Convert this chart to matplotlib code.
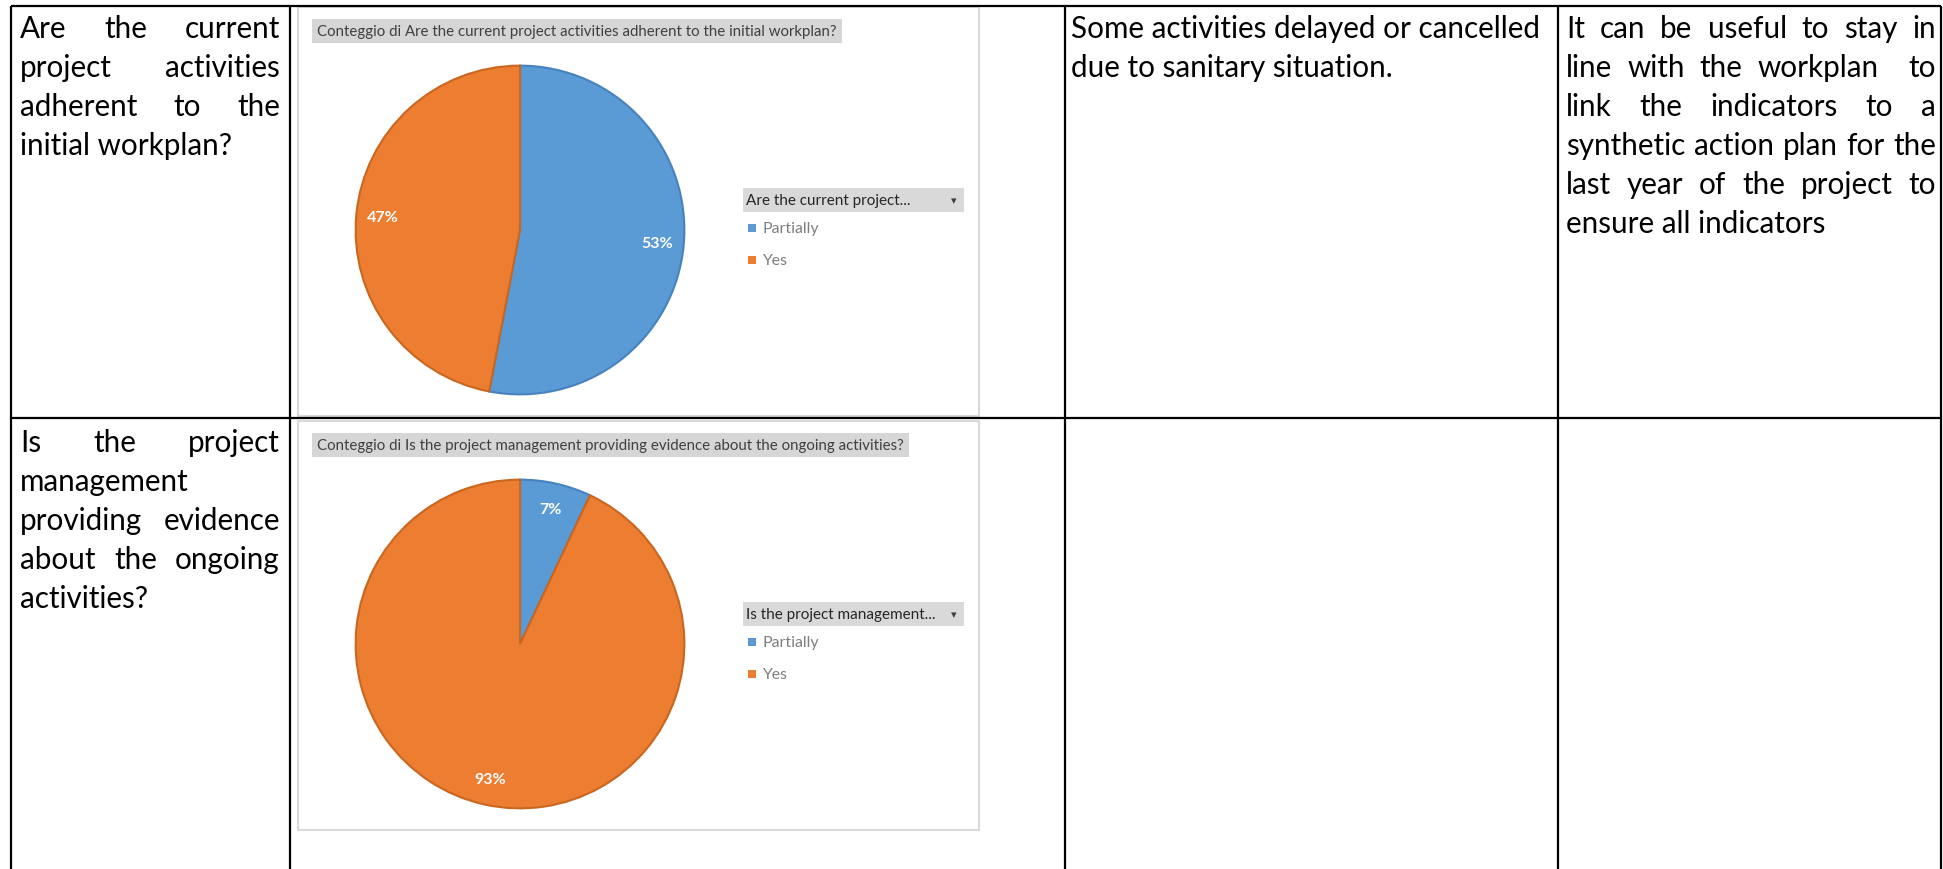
import matplotlib.pyplot as plt
from matplotlib.patches import Rectangle

plt.rcParams['font.family'] = ['Lato', 'DejaVu Sans']

W, H = 1943, 870

# testo della tabella, riga per riga come nel documento
q1_lines = ["Are the current", "project activities", "adherent to the", "initial workplan?"]
q2_lines = ["Is the project", "management", "providing evidence", "about the ongoing", "activities?"]
remark_lines = ["Some activities delayed or cancelled", "due to sanitary situation."]
suggest_lines = ["It can be useful to stay in", "line with the workplan  to",
                 "link the indicators to a", "synthetic action plan for the",
                 "last year of the project to", "ensure all indicators"]

# dati delle torte
categories = ["Partially", "Yes"]
q1_values = [53, 47]
q2_values = [7, 93]
q1_title = "Conteggio di Are the current project activities adherent to the initial workplan?"
q2_title = "Conteggio di Is the project management providing evidence about the ongoing activities?"
q1_legend = "Are the current project..."
q2_legend = "Is the project management..."

colors = ['#5B9BD5', '#ED7D31']
edges = ['#4682bd', '#c9661f']

fig = plt.figure(figsize=(W / 100, H / 100), dpi=100)
ax = fig.add_axes([0, 0, 1, 1])
ax.set_xlim(0, W)
ax.set_ylim(H, 0)
ax.axis('off')

TXT = 21.3
LINE = 39

# griglia della tabella
xs = [11, 290, 1065, 1558, 1941]
for x in xs:
    ax.plot([x, x], [7, H], color='black', lw=1.6, solid_capstyle='butt')
for y in [7, 419]:
    ax.plot([xs[0], xs[-1]], [y, y], color='black', lw=1.6, solid_capstyle='butt')


def put_lines(lines, x0, x1, y0, justify):
    r = fig.canvas.get_renderer()
    for i, line in enumerate(lines):
        y = y0 + i * LINE
        words = line.split(' ')
        if not justify or i == len(lines) - 1 or len(words) == 1:
            ax.text(x0, y, line, fontsize=TXT, va='baseline', ha='left', color='black')
            continue
        ts = [ax.text(0, y, w, fontsize=TXT, va='baseline', ha='left', color='black') if w else None
              for w in words]
        widths = [t.get_window_extent(r).width if t else 0 for t in ts]
        gap = (x1 - x0 - sum(widths)) / (len(words) - 1)
        x = x0
        for t, w in zip(ts, widths):
            if t:
                t.set_x(x)
            x += w + gap


put_lines(q1_lines, 20, 280, 38, True)
put_lines(q2_lines, 20, 280, 452, True)
put_lines(remark_lines, 1071, 1553, 38, False)
put_lines(suggest_lines, 1566, 1936, 38, True)


def pie_chart(top, values, title, legend_title):
    # cornice del grafico
    ax.add_patch(Rectangle((298, top), 681, 409, fc='white', ec='#d9d9d9', lw=1.5, zorder=1))
    # barra del titolo
    ax.text(317, top + 24, title, fontsize=10.8, color='#404040', va='center', ha='left', zorder=3,
            bbox=dict(boxstyle='square,pad=0.35', fc='#d6d6d6', ec='none'))
    # torta
    cx, cy, r = 520, top + 223, 166
    pax = fig.add_axes([(cx - r) / W, 1 - (cy + r) / H, 2 * r / W, 2 * r / H])
    wedges, _, autotexts = pax.pie(values, colors=colors, startangle=90, counterclock=False,
                                   autopct='%1.0f%%', pctdistance=0.84,
                                   textprops=dict(color='white', fontsize=11.5, fontweight='bold'))
    for wdg, ec in zip(wedges, edges):
        wdg.set_edgecolor(ec)
        wdg.set_linewidth(1.5)
    pax.set_xlim(-1.01, 1.01)
    pax.set_ylim(-1.01, 1.01)
    pax.set_aspect('equal')
    pax.axis('off')
    # legenda
    ax.add_patch(Rectangle((743, top + 181), 221, 24, fc='#d9d9d9', ec='none', zorder=2))
    ax.text(746, top + 193, legend_title, fontsize=11, color='#262626', va='center', ha='left', zorder=3)
    ax.text(954, top + 193, '\u25be', fontsize=8, color='#404040', va='center', ha='center', zorder=3)
    for k, (cat, col) in enumerate(zip(categories, colors)):
        y = top + 221 + k * 32
        ax.add_patch(Rectangle((748, y - 4), 8, 8, fc=col, ec='none', zorder=3))
        ax.text(762, y, cat, fontsize=11.4, color='#7f7f7f', va='center', ha='left', zorder=3)


pie_chart(8, q1_values, q1_title, q1_legend)
pie_chart(422, q2_values, q2_title, q2_legend)

fig.savefig('out.png', dpi=100, facecolor='white')
